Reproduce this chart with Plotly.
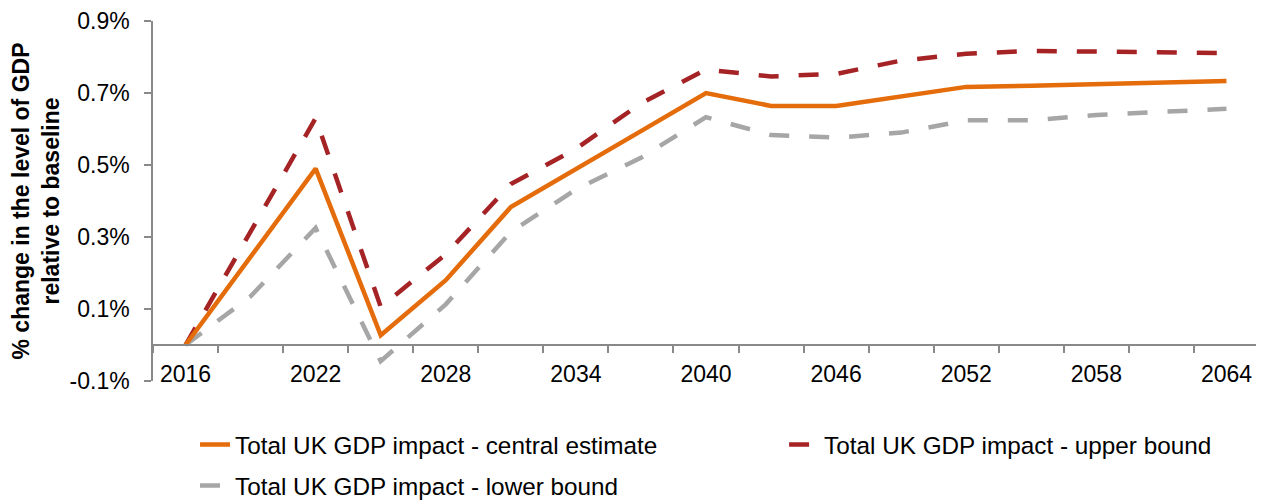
import plotly.graph_objects as go

years = [2016, 2019, 2022, 2025, 2028, 2031, 2034, 2037, 2040, 2043, 2046, 2049, 2052, 2055, 2058, 2061, 2064]
central = [0, 0.245, 0.49, 0.027, 0.18, 0.383, 0.49, 0.594, 0.70, 0.664, 0.664, 0.691, 0.717, 0.72, 0.725, 0.729, 0.733]
upper = [0, 0.315, 0.63, 0.106, 0.252, 0.447, 0.545, 0.671, 0.765, 0.746, 0.753, 0.79, 0.809, 0.817, 0.814, 0.813, 0.811]
lower = [0, 0.135, 0.325, -0.045, 0.113, 0.314, 0.432, 0.52, 0.633, 0.583, 0.576, 0.59, 0.624, 0.624, 0.639, 0.646, 0.656]

x_tick_years = [2016, 2022, 2028, 2034, 2040, 2046, 2052, 2058, 2064]
y_ticks = [-0.1, 0.1, 0.3, 0.5, 0.7, 0.9]
y_ticktext = ["-0.1%", "0.1%", "0.3%", "0.5%", "0.7%", "0.9%"]
boundaries = [y - 1.5 for y in years] + [years[-1] + 1.5]

names = ["Total UK GDP impact - central estimate",
         "Total UK GDP impact - upper bound",
         "Total UK GDP impact - lower bound"]

FONT = "Arial, Liberation Sans, sans-serif"
AXIS_COLOR = "#898989"

fig = go.Figure()
fig.add_trace(go.Scatter(x=years, y=lower, mode="lines", name=names[2],
                         line=dict(color="#A6A6A6", width=4.5, dash="20px,20px"),
                         legend="legend3"))
fig.add_trace(go.Scatter(x=years, y=upper, mode="lines", name=names[1],
                         line=dict(color="#A52225", width=4.5, dash="20px,20px"),
                         legend="legend2"))
fig.add_trace(go.Scatter(x=years, y=central, mode="lines", name=names[0],
                         line=dict(color="#E46C0A", width=4.5),
                         legend="legend"))

legend_common = dict(orientation="v", xanchor="left", yanchor="middle",
                     font=dict(family=FONT, size=24.3, color="#000000"),
                     bgcolor="rgba(0,0,0,0)")

# page body adds an 8px offset, so the figure is sized 8px smaller
fig.update_layout(
    template="none",
    width=1256, height=494,
    margin=dict(l=145, r=5, t=13, b=121, autoexpand=False),
    paper_bgcolor="white", plot_bgcolor="white",
    font=dict(family=FONT, size=23, color="#000000"),
    showlegend=True,
    legend=dict(x=0.038, y=-0.177, **legend_common),
    legend2=dict(x=0.5706, y=-0.177, **legend_common),
    legend3=dict(x=0.038, y=-0.291, **legend_common),
    xaxis=dict(
        range=[2014.5, 2065.5],
        tickmode="array", tickvals=x_tick_years,
        ticktext=[str(v) for v in x_tick_years],
        ticks="", showgrid=False, zeroline=False, automargin=False,
        showline=True, linecolor=AXIS_COLOR, linewidth=1.5,
        anchor="free", position=0.1,
        ticklabelstandoff=9,
        tickfont=dict(family=FONT, size=23, color="#000000"),
        minor=dict(tickmode="array", tickvals=boundaries, ticks="outside",
                   ticklen=7, tickwidth=1.5, tickcolor=AXIS_COLOR, showgrid=False),
    ),
    yaxis=dict(
        range=[-0.1, 0.9],
        tickmode="array", tickvals=y_ticks, ticktext=y_ticktext,
        ticks="outside", ticklen=7, tickwidth=1.5, tickcolor=AXIS_COLOR,
        showgrid=False, zeroline=False, automargin=False,
        showline=True, linecolor=AXIS_COLOR, linewidth=1.5,
        ticklabelstandoff=10,
        tickfont=dict(family=FONT, size=23, color="#000000"),
        title=dict(text="<b>% change in the level of GDP<br>relative to baseline</b>",
                   font=dict(family=FONT, size=23, color="#000000"), standoff=14),
    ),
)

fig.write_html("out.html")
